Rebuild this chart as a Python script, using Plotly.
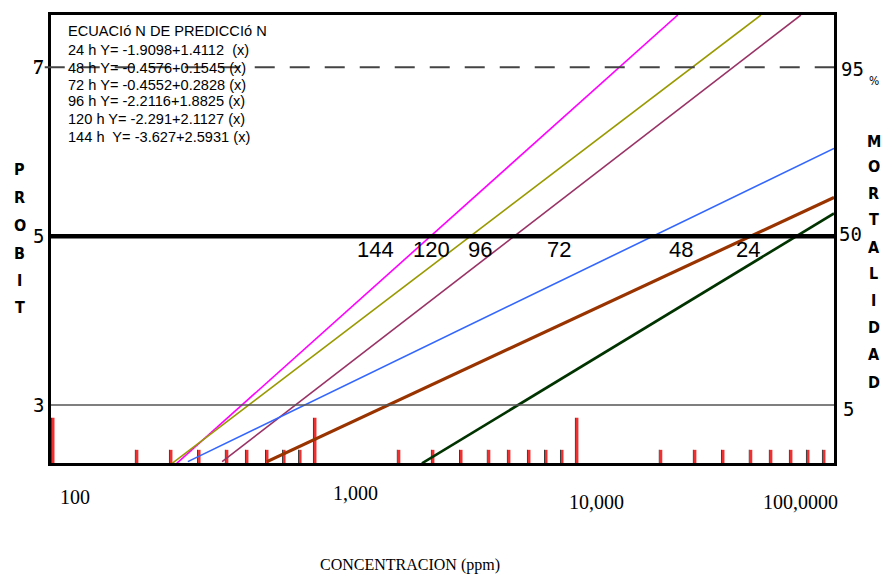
import math
import plotly.graph_objects as go

# ---------------- data ----------------
hours = ["144 h", "120 h", "96 h", "72 h", "48 h", "24 h"]
conc_start = [302, 290, 450, 333, 667, 2606]          # ppm where each line leaves the bottom
probit_start = [2.31, 2.31, 2.33, 2.33, 2.33, 2.31]
conc_end = [24700, 51300, 72900, 97500, 97500, 97500]  # ppm where each line ends
probit_end = [7.62, 7.62, 7.62, 6.04, 5.46, 5.27]

crossing_labels = ["144", "120", "96", "72", "48", "24"]
crossing_label_conc = [1738, 2844, 4335, 8690, 25400, 45700]
crossing_label_probit = 4.84

equations = [
    "ECUACIó N DE PREDICCIó N",
    "24 h Y= -1.9098+1.4112  (x)",
    "48 h Y= -0.4576+0.1545 (x)",
    "72 h Y= -0.4552+0.2828 (x)",
    "96 h Y= -2.2116+1.8825 (x)",
    "120 h Y= -2.291+2.1127 (x)",
    "144 h  Y= -3.627+2.5931 (x)",
]

decades = [100, 1000, 10000]
minor_multipliers = [2.09, 2.82, 3.61, 4.61, 5.5, 6.56, 7.62, 8.77]

x_tick_labels = ["100", "1,000", "10,000", "100,0000"]
probit_ref = [7, 5, 3]
left_labels = ["7", "5", "3"]
right_labels = ["95", "50", "5"]

# ---------------- styling ----------------
line_colors = ["#FF00FF", "#999900", "#993366", "#3366FF", "#993300", "#003300"]
line_widths = [1.6, 1.6, 1.6, 1.6, 3.2, 2.6]

W, H = 885, 576
L, R, T, B = 51, 834, 12, 463
X_RANGE = [2.0, 4.989]
Y_RANGE = [2.314, 7.62]


def px_x(x):
    return (x - L) / (R - L)


def px_y(y):
    return (B - y) / (B - T)


fig = go.Figure()

for i in range(len(hours)):
    fig.add_trace(go.Scatter(
        x=[conc_start[i], conc_end[i]],
        y=[probit_start[i], probit_end[i]],
        mode="lines", name=hours[i],
        line=dict(color=line_colors[i], width=line_widths[i]),
        showlegend=False,
    ))

shapes = []
# reference lines
shapes.append(dict(type="line", xref="paper", yref="y", x0=-0.008, x1=1, y0=7, y1=7,
                   line=dict(color="#444444", width=2, dash="20px,15px")))
shapes.append(dict(type="line", xref="paper", yref="y", x0=0, x1=1, y0=5, y1=5,
                   line=dict(color="black", width=4.5)))
shapes.append(dict(type="line", xref="paper", yref="y", x0=0, x1=1, y0=3, y1=3,
                   line=dict(color="#555555", width=1.5)))

# bottom tick marks (drawn with a red/cyan fringe like the original)
tick_pos = []
for d in decades:
    tick_pos.append((d, True))
    for m in minor_multipliers:
        tick_pos.append((d * m, False))
for pos, tall in tick_pos:
    top = 2.85 if tall else 2.47
    for (a, b, c) in [(-3.5, -1, "#30E0E8"), (-1, 1, "#3A3A3A"), (1, 3.5, "#F03030")]:
        shapes.append(dict(type="rect", xref="x", yref="y", xsizemode="pixel", xanchor=pos,
                           x0=a, x1=b, y0=Y_RANGE[0], y1=top,
                           fillcolor=c, line=dict(width=0), layer="below"))

annotations = []
# equation block
eq_y = [28, 47, 65, 82, 99, 117, 135]
for txt, yy in zip(equations, eq_y):
    annotations.append(dict(text=txt, xref="paper", yref="paper", x=px_x(66), y=px_y(yy),
                            xanchor="left", yanchor="middle", showarrow=False,
                            font=dict(family="Liberation Sans, Arial", size=14.6, color="black")))

# crossing labels
for lab, c in zip(crossing_labels, crossing_label_conc):
    annotations.append(dict(text=lab, xref="x", yref="y", x=math.log10(c), y=crossing_label_probit,
                            xanchor="center", yanchor="middle", showarrow=False,
                            font=dict(family="Liberation Sans, Arial", size=22, color="black")))

# x tick labels
xl_pos = [(75, 497), (355, 493), (596, 502), (800, 502)]
for lab, (xx, yy) in zip(x_tick_labels, xl_pos):
    annotations.append(dict(text=lab, xref="paper", yref="paper", x=px_x(xx), y=px_y(yy),
                            xanchor="center", yanchor="middle", showarrow=False,
                            font=dict(family="Liberation Serif, Times New Roman", size=20, color="black")))
annotations.append(dict(text="CONCENTRACION (ppm)", xref="paper", yref="paper", x=px_x(410), y=px_y(566),
                        xanchor="center", yanchor="middle", showarrow=False,
                        font=dict(family="Liberation Serif, Times New Roman", size=16, color="black")))

# left probit labels
for lab, p in zip(left_labels, probit_ref):
    if lab == "7":
        fnt = dict(family="Liberation Serif, Times New Roman", size=21, color="black")
    else:
        fnt = dict(family="DejaVu Sans Mono, monospace", size=19, color="black")
    annotations.append(dict(text=("<b>%s</b>" % lab) if lab == "7" else lab, xref="paper", yref="y",
                            x=px_x(46), y=p, xanchor="right", yanchor="middle", showarrow=False, font=fnt))

# right mortality labels
right_y = [66, 232, 409]
right_x = [839, 837, 841]
for lab, xx, yy in zip(right_labels, right_x, right_y):
    annotations.append(dict(text=lab, xref="paper", yref="paper", x=px_x(xx), y=px_y(yy),
                            xanchor="left", yanchor="middle", showarrow=False,
                            font=dict(family="DejaVu Sans Mono, monospace", size=19, color="black")))
annotations.append(dict(text="%", xref="paper", yref="paper", x=px_x(874), y=px_y(78),
                        xanchor="center", yanchor="middle", showarrow=False,
                        font=dict(family="DejaVu Sans Condensed, DejaVu Sans", size=12, color="black")))

# vertical axis titles
letter_font = dict(family="DejaVu Sans Condensed, DejaVu Sans", size=16, color="black")
for ch, yy in zip("PROBIT", [168, 196, 224, 252, 279, 306]):
    annotations.append(dict(text="<b>%s</b>" % ch, xref="paper", yref="paper", x=px_x(20), y=px_y(yy),
                            xanchor="center", yanchor="middle", showarrow=False, font=letter_font))
for ch, yy in zip("MORTALIDAD", [139, 165, 192, 218, 246, 272, 299, 327, 354, 382]):
    annotations.append(dict(text="<b>%s</b>" % ch, xref="paper", yref="paper", x=px_x(874), y=px_y(yy),
                            xanchor="center", yanchor="middle", showarrow=False, font=letter_font))

fig.update_layout(
    width=W, height=H,
    margin=dict(l=L, r=W - R, t=T, b=H - B, pad=0),
    paper_bgcolor="white", plot_bgcolor="white",
    shapes=shapes, annotations=annotations,
    showlegend=False,
    xaxis=dict(type="log", range=X_RANGE, showgrid=False, zeroline=False, showticklabels=False,
               ticks="", showline=True, linecolor="black", linewidth=3, mirror=True),
    yaxis=dict(range=Y_RANGE, showgrid=False, zeroline=False, showticklabels=False,
               ticks="", showline=True, linecolor="black", linewidth=3, mirror=True),
)

fig.write_html(
    "out.html",
    config={"displayModeBar": False},
    post_script="document.body.style.margin='0';document.body.style.overflow='hidden';",
)
